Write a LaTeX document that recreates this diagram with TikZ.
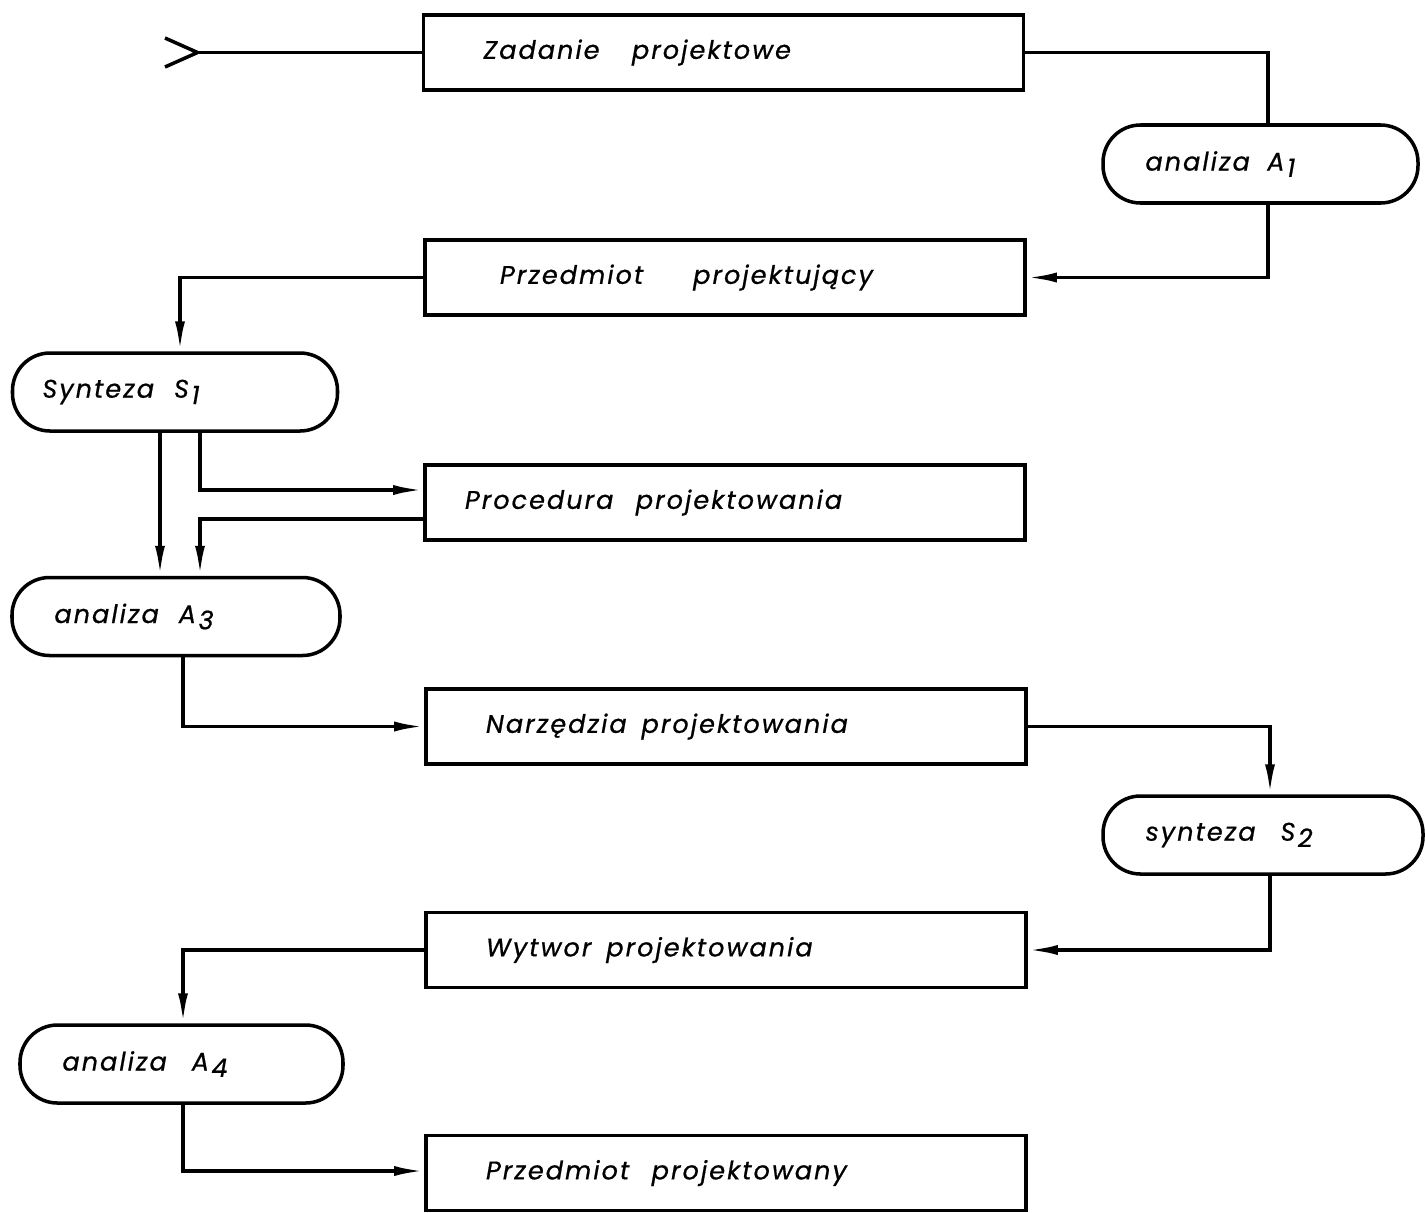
\documentclass[tikz,border=0pt]{standalone}
\usepackage{fontspec}
\newfontfamily\lettering{Poppins}[LetterSpace=8,FakeBold=0.7]
\usetikzlibrary{positioning,shapes,arrows.meta,calc}
\newcommand{\idx}[1]{\hspace{0.05cm}\raisebox{-0.45ex}{#1}}
\tikzset{
    box/.style={draw,line width=2pt,minimum height=1.5cm,text width=9.6cm,inner xsep=1.2cm,align=left,font=\lettering\itshape\fontsize{14.5}{16}\selectfont},
    proc/.style={draw,line width=2pt,rounded corners=0.75cm,minimum height=1.56cm,text width=4.6cm,inner xsep=0.85cm,align=left,font=\lettering\itshape\fontsize{14.5}{16}\selectfont},
    link/.style={line width=2pt},
    flow/.style={line width=2pt,-{Latex[length=0.6cm,width=0.2cm]}},
}
\begin{document}
\begin{tikzpicture}
    \useasboundingbox (0,0) rectangle (28.5,-24.24);

    % Boxes
    \node[box] (zad) at (14.47,-1.05) {Zadanie\hspace{0.65cm}projektowe};
    \node[box,inner xsep=1.5cm,text width=9cm] (prz) at (14.5,-5.55) {Przedmiot\hspace{1cm}projektujący};
    \node[box,inner xsep=0.8cm,text width=10.4cm] (proc) at (14.5,-10.05) {Procedura\hspace{0.45cm}projektowania};
    \node[box] (narz) at (14.52,-14.53) {Narzędzia\hspace{0.3cm}projektowania};
    \node[box] (wyt) at (14.52,-19.0) {Wytwor\hspace{0.3cm}projektowania};
    \node[box] (wynik) at (14.52,-23.46) {Przedmiot\hspace{0.45cm}projektowany};

    % Analysis and synthesis
    \node[proc,text width=4.6cm] (a1) at (25.21,-3.28) {analiza\hspace{0.35cm}A\idx{1}};
    \node[proc,inner xsep=0.6cm,text width=5.3cm] (s1) at (3.5,-7.84) {Synteza\hspace{0.4cm}S\idx{1}};
    \node[proc,text width=4.86cm] (a3) at (3.52,-12.33) {analiza\hspace{0.4cm}A\idx{3}};
    \node[proc,text width=4.7cm] (s2) at (25.26,-16.7) {synteza\hspace{0.5cm}S\idx{2}};
    \node[proc,text width=4.76cm] (a4) at (3.63,-21.28) {analiza\hspace{0.5cm}A\idx{4}};

    % Input
    \coordinate (inlet) at (3.95,-1.05);
    \draw[link] (inlet) -- (zad.west);
    \draw[link] ($(inlet)+(-0.65,0.29)$) -- (inlet) -- ($(inlet)+(-0.65,-0.29)$);

    % Flow
    \draw[link] (zad.east) -| ([xshift=0.15cm]a1.north);
    \draw[flow] ([xshift=0.15cm]a1.south) |- (prz.east);
    \draw[flow] (prz.west) -| ([xshift=0.1cm]s1.north);
    \draw[flow] ([xshift=-0.3cm]s1.south) -- ([xshift=-0.3cm]s1.south |- a3.north);
    \draw[flow] ([xshift=0.5cm]s1.south) |- ([yshift=0.25cm]proc.west);
    \draw[flow] ([yshift=-0.33cm]proc.west) -| ([xshift=0.5cm]s1.south |- a3.north);
    \draw[flow] ([xshift=0.14cm]a3.south) |- (narz.west);
    \draw[flow] (narz.east) -| ([xshift=0.14cm]s2.north);
    \draw[flow] ([xshift=0.14cm]s2.south) |- (wyt.east);
    \draw[flow] (wyt.west) -| ([xshift=0.03cm]a4.north);
    \draw[flow] ([xshift=0.03cm]a4.south) |- ([yshift=0.04cm]wynik.west);
\end{tikzpicture}
\end{document}
